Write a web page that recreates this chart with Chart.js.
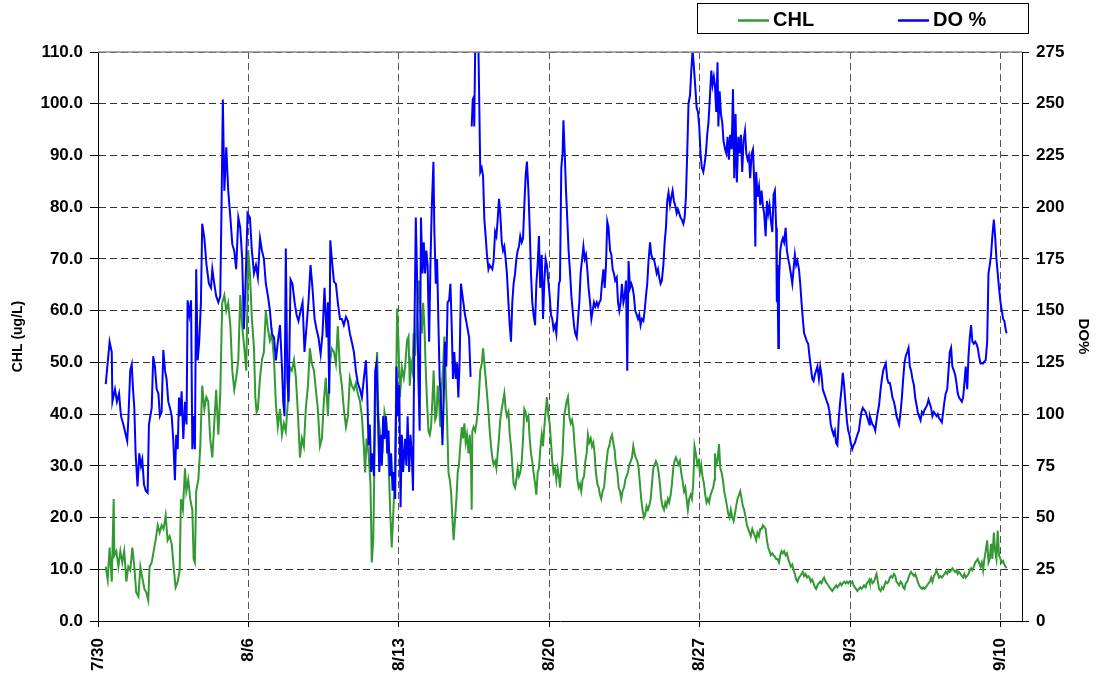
<!DOCTYPE html>
<html lang="en">
<head>
  <meta charset="utf-8">
  <title>CHL / DO %</title>
  <script src="https://cdn.jsdelivr.net/npm/chart.js@4.4.1/dist/chart.umd.min.js"></script>
  <style>
    html, body { margin: 0; padding: 0; background: #fff; }
    #wrap { width: 1099px; height: 679px; }
  </style>
</head>
<body>

<div id="wrap"><canvas id="chart" width="1099" height="679"></canvas></div>

<script>
// time axis is in days counted from 7/30 00:00

const chlDays = [
  0.36,0.45,0.54,0.64,0.73,0.76,0.85,0.95,1.04,1.13,
  1.22,1.32,1.41,1.50,1.60,1.69,1.78,1.88,1.97,2.06,
  2.16,2.25,2.34,2.40,2.50,2.59,2.68,2.78,2.87,2.96,
  3.05,3.15,3.24,3.33,3.43,3.52,3.61,3.71,3.80,3.86,
  3.95,4.05,4.11,4.20,4.29,4.39,4.45,4.51,4.57,4.67,
  4.76,4.85,4.95,5.04,5.13,5.22,5.32,5.41,5.50,5.60,
  5.69,5.78,5.88,5.97,6.06,6.16,6.25,6.34,6.43,6.53,
  6.62,6.71,6.81,6.90,6.99,
  7.07,7.16,7.26,7.32,7.38,7.44,7.54,7.63,7.72,7.81,
  7.91,8.00,8.09,8.19,8.28,8.37,8.47,8.56,8.65,8.74,
  8.84,8.93,9.02,9.12,9.21,9.30,9.40,9.49,9.58,9.67,
  9.77,9.86,9.95,10.05,10.14,10.23,10.33,10.42,10.51,10.60,
  10.70,10.79,10.88,10.98,11.07,11.16,11.26,11.35,11.44,11.54,
  11.63,11.72,11.81,11.91,12.00,12.09,12.19,12.28,12.37,12.43,
  12.50,12.59,12.68,12.74,12.81,12.87,12.93,12.99,13.05,13.15,
  13.24,13.33,13.43,13.52,13.61,13.67,13.74,13.80,13.86,13.92,
  13.98,14.05,14.14,14.23,
  14.29,14.38,14.45,14.51,14.57,14.63,14.69,14.76,14.82,14.88,
  14.94,15.00,15.07,15.13,15.19,15.25,15.31,15.38,15.44,15.50,
  15.56,15.62,15.69,15.75,15.81,15.87,15.93,16.00,16.06,16.12,
  16.18,16.24,16.31,16.37,16.43,16.49,16.55,16.62,16.68,16.74,
  16.80,16.86,16.93,16.99,17.05,17.11,17.17,17.24,17.30,17.36,
  17.39,17.42,17.48,17.55,17.61,17.67,17.73,17.79,17.86,17.92,
  17.98,18.04,18.10,18.17,18.23,18.29,18.35,18.41,18.48,18.54,
  18.60,18.66,18.72,18.79,18.85,18.91,18.97,19.03,19.10,19.16,
  19.22,19.28,19.34,19.41,19.47,19.53,19.59,19.65,19.72,19.78,
  19.84,19.90,19.96,20.03,20.09,20.15,20.21,20.27,20.34,20.40,
  20.46,20.52,20.58,20.65,20.71,20.77,20.83,20.89,20.96,21.02,
  21.08,21.14,21.20,21.27,21.33,21.39,21.45,
  21.50,21.56,21.62,21.69,21.75,21.81,21.87,21.93,22.00,22.06,
  22.12,22.18,22.24,22.31,22.37,22.43,22.49,22.55,22.62,22.68,
  22.74,22.80,22.86,22.93,22.99,23.05,23.11,23.17,23.24,23.30,
  23.36,23.42,23.48,23.55,23.61,23.67,23.73,23.79,23.86,23.92,
  23.98,24.04,24.10,24.17,24.23,24.29,24.35,24.41,24.48,24.54,
  24.60,24.66,24.72,24.79,24.85,24.91,24.97,25.03,25.10,25.16,
  25.22,25.28,25.34,25.41,25.47,25.53,25.59,25.65,25.72,25.78,
  25.84,25.90,25.96,26.03,26.09,26.15,26.21,26.27,26.34,26.40,
  26.46,26.52,26.58,26.65,26.71,26.77,26.83,26.89,26.96,27.02,
  27.08,27.14,27.20,27.27,27.33,27.39,27.45,27.51,27.58,27.64,
  27.70,27.76,27.82,27.89,27.95,28.01,28.07,28.13,28.20,28.26,
  28.32,28.38,28.44,28.51,28.57,28.63,28.69,
  28.71,28.77,28.83,28.90,28.96,29.02,29.08,29.14,29.21,29.27,
  29.33,29.39,29.45,29.52,29.58,29.64,29.70,29.76,29.83,29.89,
  29.95,30.01,30.07,30.14,30.20,30.26,30.32,30.38,30.45,30.51,
  30.57,30.63,30.69,30.76,30.82,30.88,30.94,31.00,31.07,31.13,
  31.19,31.25,31.31,31.38,31.44,31.50,31.56,31.62,31.69,31.75,
  31.81,31.87,31.93,32.00,32.06,32.12,32.18,32.24,32.31,32.37,
  32.43,32.49,32.55,32.62,32.68,32.74,32.80,32.86,32.93,32.99,
  33.05,33.11,33.17,33.24,33.30,33.36,33.42,33.48,33.55,33.61,
  33.67,33.73,33.79,33.86,33.92,33.98,34.04,34.10,34.17,34.23,
  34.29,34.35,34.41,34.48,34.54,34.60,34.66,34.72,34.79,34.85,
  34.91,34.97,35.03,35.10,35.16,35.22,35.28,35.34,35.41,35.47,
  35.53,35.59,35.65,35.72,35.78,35.84,35.90,
  35.92,35.98,36.04,36.11,36.17,36.23,36.29,36.35,36.42,36.48,
  36.54,36.60,36.66,36.73,36.79,36.85,36.91,36.97,37.04,37.10,
  37.16,37.22,37.28,37.35,37.41,37.47,37.53,37.59,37.66,37.72,
  37.78,37.84,37.90,37.97,38.03,38.09,38.15,38.21,38.28,38.34,
  38.40,38.46,38.52,38.59,38.65,38.71,38.77,38.83,38.90,38.96,
  39.02,39.08,39.14,39.21,39.27,39.33,39.39,39.45,39.52,39.58,
  39.64,39.70,39.76,39.83,39.89,39.95,40.01,40.07,40.14,40.20,
  40.26,40.32,40.38,40.45,40.51,40.57,40.63,40.69,40.76,40.82,
  40.88,40.94,41.00,41.07,41.13,41.19,41.25,41.31,41.38,41.44,
  41.50,41.56,41.62,41.69,41.75,41.81,41.87,41.93,42.00,42.06,
  42.12,42.18,42.24,42.28
];

const chlValues = [
  10.5,8,14.2,7.6,23.6,12.7,13.5,10.5,13.5,11.3,
  13.5,7.6,10.5,9.8,14.2,10.5,5.5,4.7,10.5,8.4,
  6.2,5.5,4.0,10.5,11.3,13.5,15.6,18.5,17.1,18.5,
  17.8,20.4,15.6,16.4,14.9,10.5,6.5,7.6,9.8,23.6,
  21.5,29.5,25.1,27.3,23.6,21.5,12,11.3,25.1,27.3,
  33.8,45.5,41,43.3,42.5,35.3,31.6,38.2,44.7,36,
  44,61.5,63,60,61.5,57,48.4,44.7,47,50.5,
  63,57,52.7,48.4,71.6,
  67.3,58.5,52.7,43.3,40.4,41,47,50.5,52,60,
  56.4,54.2,55.6,50.5,41.8,37.5,41,36,38.2,36.7,
  42.5,49,48.4,50.5,47,40.4,31.6,35.3,33.8,41,
  45.5,52.7,49.8,48.4,44.7,41,33.8,35.3,42.5,47,
  39.6,49.8,52.7,52,49.8,57,48.4,45.5,41,37.5,
  39.6,47,45.5,44.7,46,44,42.5,39.6,33.8,28.7,
  35.3,32.4,26.5,11.3,15.6,32.4,47,52,39.6,35.3,
  32.4,40.4,38.2,30.9,20,14.2,20.7,26.5,40.4,60.4,
  54.2,43.3,49,47,
  49,54.2,55,45.5,49.8,48.4,55.6,51.3,57,61.5,
  65.8,60,55.6,61.5,57,49,42.5,36.7,36,37.5,
  42.5,48.4,38.9,39.6,45.5,42.5,37.5,45.5,49,55,
  47,39.6,28.7,27.3,25.1,20,15.6,20,23.6,28.7,
  30.2,33.8,37.5,35.3,38.2,34.5,36,32.4,36,30.2,
  21.5,36.7,37.5,36.7,38.2,40.4,44,48.4,49.8,52.7,
  49.8,47,44,40.4,36.7,33.8,31.6,30.2,30.9,29.5,
  32.4,35.3,38.9,41,42.5,44,41,39.6,40.4,36,
  33.8,30.2,26.5,25.8,27.3,29.5,28,28.7,30.9,35.3,
  41,40.4,38.9,39.6,35.3,32.4,30.9,28.7,26.5,24.4,
  28.7,29.5,33.1,36,33.8,37.5,40.4,43.3,39.6,38.2,
  34.5,30.9,28.7,29.5,27.3,29.5,28,
  25.8,29.5,32.4,39.6,41,42.5,43.3,39.6,38.2,38.9,
  37.5,33.8,30.9,27.3,25.8,26.5,25.1,27.3,28,30.9,
  32.4,36,34.5,35.3,33.8,34.5,32.4,28.7,26.5,25.8,
  24.4,23.6,25.1,25.8,28.7,30.9,33.1,33.8,35.3,36,
  34.5,33.1,30.2,28.7,25.8,25.1,23.6,25.1,25.8,27.3,
  28,28.7,30.2,30.9,31.6,33.8,32.4,31.6,30.9,29.5,
  26.5,23.6,21.5,20,20.7,22.2,21.5,22.2,23.6,26.5,
  29.5,30.2,30.9,30.2,28.7,26.5,23.6,22.2,21.5,22.9,
  22.2,23.6,22.9,24.4,26.5,29.5,30.9,31.6,30.9,30.2,
  30.9,28.7,27.3,25.1,25.8,23.6,21.5,23.6,24.4,23.6,
  26.5,33.8,32.4,30.2,30.9,28.7,30.2,28,26.5,24.4,
  22.9,23.6,22.9,24.4,25.1,25.8,27.3,
  32.4,30.2,30.9,34.2,29.5,28.7,27.3,25.1,23.6,22.2,
  20.7,20,21.5,20,19.3,20.7,22.2,23.6,24.4,25.1,
  23.6,22.2,21.5,20,18.5,17.8,17.1,16.4,17.8,17.1,
  16.4,15.6,17.1,16.4,17.8,17.8,18.5,18.2,17.8,15.6,
  14.2,13.5,12.7,13.1,12.7,12.4,12,12,11.3,12.7,
  13.5,13.1,13.5,12.7,13.1,12,11.3,10.5,10.9,9.8,
  9.1,8,7.6,8.4,8.7,9.1,9.5,8.7,9.1,8.4,
  8.7,8.4,7.6,8,7.3,6.5,6.2,6.9,7.3,7.6,
  7.3,8,8.4,7.6,7.3,6.9,6.5,6.2,5.8,6.2,
  6.5,6.9,6.5,6.9,7.3,6.9,7.3,7.6,7.3,7.6,
  7.3,7.6,7.3,7.6,6.9,6.5,6.2,5.8,6.2,6.5,
  6.2,6.5,6.9,6.5,7.3,7.6,8,
  7.6,8,7.3,7.6,8.4,9.1,7.6,6.2,5.8,6.5,
  6.2,6.9,7.6,7.3,7.6,8.4,8.7,8.4,9.1,8.7,
  7.6,7.3,6.9,7.6,7.3,6.5,6.2,7.3,7.6,8.4,
  9.1,9.5,9.1,8.7,9.1,8.4,7.6,6.9,6.5,6.2,
  6.5,6.2,6.5,6.9,7.3,7.6,8.4,7.6,8.7,9.1,
  9.8,9.1,8.4,8.7,8.4,8.7,9.1,9.5,9.1,9.8,
  9.5,9.8,10.2,9.8,9.5,9.8,9.1,9.5,9.1,8.7,
  8.4,9.1,8.4,8.7,9.1,9.8,10.2,9.8,10.5,11.3,
  11.6,12,11.3,10.5,11.3,9.8,12,13.5,15.6,11.3,
  12,14.9,12,17.1,13.5,12,17.5,12.7,12,11.3,
  11.6,10.9,10.5,10.2
];

// DO logger dropped out briefly on 8/16 (null = gap in the line)
const doDays = [
  0.36,0.54,0.64,0.67,0.79,0.88,0.98,1.07,1.18,1.29,
  1.36,1.41,1.50,1.57,1.63,1.69,1.75,1.84,1.92,2.00,
  2.06,2.14,2.22,2.31,2.37,2.50,2.57,2.65,2.73,2.81,
  2.88,2.96,3.04,3.12,3.19,3.27,3.35,3.43,3.50,3.58,
  3.64,3.71,3.77,3.83,3.89,3.97,4.05,4.12,4.17,4.25,
  4.33,4.39,4.45,4.51,4.57,4.64,4.71,4.79,4.85,4.95,
  5.05,5.16,5.26,5.32,5.41,5.50,5.60,5.69,5.75,5.81,
  5.88,5.97,6.06,6.16,6.25,6.34,6.43,6.53,6.62,6.71,
  6.79,6.87,6.96,
  7.07,7.16,7.26,7.35,7.44,7.54,7.63,7.72,7.81,7.91,
  8.00,8.09,8.19,8.28,8.37,8.47,8.56,8.62,8.68,8.74,
  8.81,8.87,8.96,9.05,9.15,9.24,9.33,9.43,9.52,9.61,
  9.71,9.80,9.89,9.98,10.08,10.17,10.26,10.36,10.45,10.54,
  10.64,10.70,10.76,10.81,10.88,10.98,11.07,11.16,11.26,11.35,
  11.44,11.54,11.63,11.72,11.81,11.91,12.00,12.09,12.19,12.28,
  12.37,12.47,12.53,12.59,12.65,12.71,12.78,12.84,12.90,12.96,
  13.02,13.09,13.15,13.21,13.27,13.33,13.40,13.46,13.52,13.58,
  13.64,13.71,13.77,13.83,13.89,13.95,14.02,14.08,14.14,14.20,
  14.29,14.35,14.41,14.48,14.54,14.60,14.66,14.72,14.79,14.85,
  14.91,14.97,15.03,15.10,15.16,15.22,15.28,15.34,15.41,15.47,
  15.53,15.61,15.65,15.72,15.78,15.84,15.90,15.96,16.03,16.09,
  16.15,16.21,16.27,16.34,16.40,16.46,16.52,16.58,16.65,16.71,
  16.77,16.83,16.89,16.99,17.08,17.17,17.27,17.34,17.36,17.39,
  17.44,17.48,17.51,17.58,17.64,17.70,17.75,17.79,17.86,17.92,
  17.98,18.04,18.10,18.17,18.23,18.29,18.35,18.41,18.48,18.54,
  18.60,18.66,18.72,18.79,18.85,18.91,18.97,19.03,19.10,19.16,
  19.22,19.28,19.34,19.41,19.47,19.53,19.59,19.65,19.72,19.78,
  19.84,19.90,19.96,20.03,20.09,20.15,20.21,20.27,20.34,20.40,
  20.46,20.52,20.58,20.65,20.71,20.77,20.83,20.89,20.96,21.02,
  21.08,21.14,21.20,21.27,21.33,21.39,21.45,
  21.50,21.56,21.62,21.66,21.72,21.78,21.84,21.90,21.97,22.03,
  22.09,22.15,22.21,22.28,22.34,22.40,22.46,22.52,22.59,22.65,
  22.71,22.77,22.83,22.90,22.96,23.02,23.08,23.14,23.21,23.27,
  23.33,23.39,23.45,23.52,23.58,23.64,23.70,23.76,23.83,23.89,
  23.95,24.01,24.07,24.14,24.20,24.26,24.32,24.38,24.45,24.51,
  24.57,24.63,24.69,24.76,24.82,24.88,24.94,25.00,25.07,25.13,
  25.19,25.25,25.31,25.38,25.44,25.50,25.56,25.62,25.69,25.75,
  25.81,25.87,25.93,26.00,26.06,26.12,26.18,26.24,26.31,26.37,
  26.43,26.49,26.55,26.62,26.68,26.74,26.80,26.86,26.93,26.99,
  27.05,27.11,27.17,27.24,27.30,27.36,27.42,27.48,27.55,27.61,
  27.67,27.73,27.79,27.86,27.92,27.98,28.04,28.10,28.17,28.23,
  28.29,28.35,28.41,28.48,28.54,28.60,28.66,
  28.71,28.77,28.83,28.87,28.93,28.99,29.05,29.11,29.18,29.24,
  29.30,29.36,29.42,29.49,29.55,29.61,29.67,29.73,29.80,29.86,
  29.92,29.98,30.04,30.11,30.17,30.23,30.29,30.35,30.42,30.48,
  30.54,30.59,30.63,30.69,30.76,30.82,30.88,30.94,31.00,31.07,
  31.13,31.19,31.25,31.31,31.38,31.44,31.50,31.56,31.59,31.62,
  31.66,31.69,31.75,31.81,31.87,31.93,32.00,32.06,32.12,32.18,
  32.24,32.31,32.37,32.43,32.49,32.55,32.62,32.68,32.74,32.80,
  32.86,32.93,32.99,33.05,33.11,33.17,33.24,33.30,33.36,33.42,
  33.48,33.55,33.61,33.67,33.73,33.79,33.86,33.92,33.98,34.04,
  34.10,34.17,34.23,34.29,34.35,34.41,34.48,34.54,34.60,34.66,
  34.72,34.79,34.85,34.91,34.97,35.03,35.10,35.16,35.22,35.28,
  35.34,35.41,35.47,35.53,35.59,35.65,35.72,35.78,35.84,35.90,
  35.92,35.98,36.04,36.11,36.17,36.23,36.29,36.35,36.42,36.48,
  36.54,36.60,36.66,36.73,36.79,36.85,36.91,36.97,37.04,37.10,
  37.16,37.22,37.28,37.35,37.41,37.47,37.53,37.59,37.66,37.72,
  37.78,37.84,37.90,37.97,38.03,38.09,38.15,38.21,38.28,38.34,
  38.40,38.46,38.52,38.59,38.65,38.71,38.77,38.83,38.90,38.96,
  39.02,39.08,39.14,39.21,39.27,39.33,39.39,39.45,39.52,39.58,
  39.64,39.70,39.76,39.83,39.89,39.95,40.01,40.07,40.14,40.20,
  40.26,40.32,40.38,40.45,40.51,40.57,40.63,40.69,40.76,40.82,
  40.88,40.94,41.00,41.07,41.13,41.19,41.25,41.31,41.38,41.44,
  41.50,41.56,41.62,41.69,41.75,41.81,41.87,41.93,42.00,42.06,
  42.12,42.18,42.24,42.28
];

const doValues = [
  114.5,135,130,106,112,106,110,99,95,90,
  87,97,121,124,112,103,81,65,81,75,
  78,66,63,62,95,103,128,123,112,110,
  99,101,131,121,117,106,103,99,88,68,
  90,83,108,99,111,88,106,95,155,148,
  155,83,99,83,170,126,135,154,192,185,
  172,163,161,170,163,157,154,157,201,252,
  208,229,208,195,182,179,170,195,190,175,
  141,164,197,
  195,179,168,172,166,185,179,175,163,157,
  150,139,137,126,135,143,123,106,99,180,
  117,106,165,163,154,148,145,150,154,130,
  143,155,172,161,146,141,137,129,139,161,
  137,154,110,184,175,164,163,154,146,146,
  143,147,145,139,135,130,121,115,112,108,
  117,126,110,85,95,72,81,70,121,124.5,
  103,72,90,75,99,88,99,81,92,70,
  81,63,72,59,123,99,114,55,90,72,
  88,75,99,72,90,81,63,135,195,165,
  117,92,195,168,183,168,179,172,135,172,
  199,222,190,163,175,145,117,106,85,108,
  135,123,154,155,163,143,117,130,117,124.5,
  108,126,163,155,148,143,137,118,null,239,
  252,253,239,300,310,280,245,217,219,215,
  194,186,177,170,172,171,170,174,188,186,
  194,204,197,183,179,181,175,168,154,143,
  135,154,163,168,175,179,181,186,183,185,
  201,215,222,208,190,168,154,148,143,163,
  172,186,161,177,146,164,175,172,164,157,
  148,146,141,143,139,150,163,
  164.5,219,226,242,226,208,194,179,168,157,
  150,143,139,137,146,154,168,174,181,175,
  177,170,161,154,146,150,154,152,154,152,
  154,155,163,170,161,172,193,190,179,177,
  170,168,164.5,166,154,150,154,163,154,157,
  164.5,121,174,161,163,161,157,150,148,146,
  148,143,146,145,150,157,163,174,183,177,
  175,175,172,168,170,166,163,164.5,172,183,
  190,203,207,201,205,208,203,201,197,199,
  197,195,194,192,195,205,226,250,254,266,
  276,268,259,248,246,239,226,219,217,221,
  226,235,241,254,266,259,263,
  259,246,270,239,256,245,241,232,228,226,
  234,223,235,228,257,214,245,212,234,226,
  235,217,232,237,226,223,225,214,226,228,
  212,181,217,205,210,201,208,201,197,186,
  203,197,201,194,188,206,208,190,154,172,
  132,164.5,179,183,185,183,190,179,175,172,
  168,163,170,177,172,174,170,163,154,146,
  139,137,135,134,128,123,117,116,119,121,
  123,117,123,119,112,110,108,106,104.5,101,
  95,92,90,92,86,85,99,106,112,120,
  114,104.5,97,92,90,86,83,85,86,88,
  90,92,97,101,103,102,101,99,97,95,
  99,97,95,94,92,97,101,104.5,112,117,
  121,123,124.5,117,115,115,112,108,106,103,
  99,97,95,101,108,117,124.5,128,130,132,
  123,121,117,114,108,104.5,101,99,97,101,
  100,102,103,104.5,107,105,103,99,101,100,
  99,100,98,97,96,101,106,110,112,121,
  130,132,123,121,119,115,110,108,107,106,
  108,115,123,112,128,137,143,135,134,135,
  134,132,128,124.5,124.5,124.5,125.5,126,135,168,
  172,177,186,194,186,175,168,161,154,150,
  146,145,141,139
];

const weekLabels = ['7/30', '8/6', '8/13', '8/20', '8/27', '9/3', '9/10'];

function toPoints(days, values) {
  return days.map(function (d, i) { return { x: d, y: values[i] }; });
}

var FONT = 'Arial, "Liberation Sans", sans-serif';
Chart.defaults.font.family = FONT;
Chart.defaults.color = '#000';

// boxed legend above the plot, plus the grey frame line along the top
var boxedLegend = {
  id: 'boxedLegend',
  afterDraw: function (chart) {
    var ctx = chart.ctx;
    var area = chart.chartArea;
    ctx.save();

    ctx.strokeStyle = '#8c8c8c';
    ctx.lineWidth = 1.5;
    ctx.beginPath();
    ctx.moveTo(area.left, area.top);
    ctx.lineTo(area.right, area.top);
    ctx.stroke();

    ctx.fillStyle = '#fff';
    ctx.fillRect(697.5, 3.5, 331, 30);
    ctx.strokeStyle = '#000';
    ctx.lineWidth = 1;
    ctx.strokeRect(697.5, 3.5, 331, 30);

    var starts = [738, 898];
    ctx.font = 'bold 20px ' + FONT;
    ctx.textBaseline = 'middle';
    ctx.textAlign = 'left';
    chart.data.datasets.forEach(function (ds, i) {
      var x = starts[i];
      ctx.strokeStyle = ds.borderColor;
      ctx.lineWidth = 2.5;
      ctx.beginPath();
      ctx.moveTo(x, 20.5);
      ctx.lineTo(x + 31, 20.5);
      ctx.stroke();
      ctx.fillStyle = '#000';
      ctx.fillText(ds.label, x + 35, 20.5);
    });
    ctx.restore();
  }
};

var tickFont = { size: 17, weight: 'bold' };

new Chart(document.getElementById('chart').getContext('2d'), {
  type: 'line',
  data: {
    datasets: [
      {
        label: 'CHL',
        data: toPoints(chlDays, chlValues),
        yAxisID: 'yChl',
        borderColor: '#339933',
        borderWidth: 2,
        pointRadius: 0,
        tension: 0,
        order: 2
      },
      {
        label: 'DO %',
        data: toPoints(doDays, doValues),
        yAxisID: 'yDo',
        borderColor: '#0000ff',
        borderWidth: 2,
        pointRadius: 0,
        tension: 0,
        spanGaps: false,
        order: 1
      }
    ]
  },
  options: {
    responsive: false,
    animation: false,
    layout: { padding: { top: 52, left: 0, right: 0, bottom: 0 } },
    plugins: {
      legend: { display: false },
      tooltip: { enabled: false }
    },
    scales: {
      x: {
        type: 'linear',
        position: 'bottom',
        min: 0,
        max: 43,
        afterFit: function (scale) { scale.height = 58; },
        ticks: {
          stepSize: 7,
          includeBounds: false,
          autoSkip: false,
          maxRotation: 90,
          minRotation: 90,
          padding: 11,
          font: tickFont,
          callback: function (v) { return weekLabels[Math.round(v / 7)]; }
        },
        grid: {
          color: '#555',
          tickColor: '#000',
          tickLength: 6,
          tickBorderDash: []
        },
        border: { color: '#000', width: 1, dash: [7, 4] }
      },
      yChl: {
        type: 'linear',
        position: 'left',
        min: 0,
        max: 110,
        afterFit: function (scale) { scale.width = 98; },
        title: {
          display: true,
          text: 'CHL (ug/L)',
          font: { size: 14, weight: 'bold' },
          padding: { top: 10, bottom: 0 }
        },
        ticks: {
          stepSize: 10,
          padding: 7,
          font: tickFont,
          callback: function (v) { return v.toFixed(1); }
        },
        grid: {
          color: '#333',
          tickColor: '#000',
          tickLength: 8,
          tickBorderDash: []
        },
        border: { color: '#000', width: 1, dash: [7, 4] }
      },
      yDo: {
        type: 'linear',
        position: 'right',
        min: 0,
        max: 275,
        afterFit: function (scale) { scale.width = 77; },
        title: {
          display: true,
          text: 'DO%',
          font: { size: 15, weight: 'bold' },
          padding: { top: 7, bottom: 0 }
        },
        ticks: {
          stepSize: 25,
          padding: 7,
          font: tickFont
        },
        grid: {
          drawOnChartArea: false,
          tickColor: '#000',
          tickLength: 7,
          tickBorderDash: []
        },
        border: { color: '#000', width: 1 }
      }
    }
  },
  plugins: [boxedLegend]
});
</script>
</body>
</html>
